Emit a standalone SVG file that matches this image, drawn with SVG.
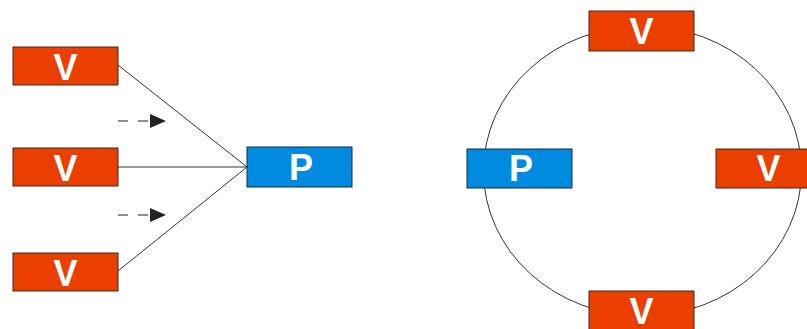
<svg xmlns="http://www.w3.org/2000/svg" width="807" height="329" viewBox="0 0 807 329">
  <defs>
    <style>
      .v { fill: #EB3F00; stroke: #3a2a20; stroke-width: 1; }
      .p { fill: #008BE0; stroke: #1a2a3a; stroke-width: 1; }
      .lbl { fill: #ffffff; font-family: "Liberation Sans", Arial, sans-serif; font-weight: bold; font-size: 36px; text-anchor: middle; }
      .wire { fill: none; stroke: #333333; stroke-width: 1; }
      .flow { fill: none; stroke: #222222; stroke-width: 1.2; stroke-dasharray: 10 10; }
    </style>
    <marker id="head" markerUnits="userSpaceOnUse" markerWidth="16" markerHeight="14" refX="0" refY="7" orient="auto">
      <path d="M0,0 L16,7 L0,14 Z" fill="#222222"/>
    </marker>
  </defs>

  <rect width="807" height="329" fill="#ffffff"/>

  <!-- connectors -->
  <g id="connectors">
    <line class="wire" x1="118" y1="65" x2="247" y2="167"/>
    <line class="wire" x1="118" y1="167" x2="247" y2="167"/>
    <line class="wire" x1="118" y1="271" x2="247" y2="167"/>
    <path class="flow" d="M118,121 H150" marker-end="url(#head)"/>
    <path class="flow" d="M118,215 H150" marker-end="url(#head)"/>
    <ellipse class="wire" cx="642.5" cy="171" rx="159" ry="145"/>
  </g>

  <!-- star layout -->
  <g id="v-top-left">
    <rect class="v" x="13" y="47" width="105" height="38"/>
    <text class="lbl" x="65.5" y="80">V</text>
  </g>
  <g id="v-mid-left">
    <rect class="v" x="13" y="148" width="105" height="38"/>
    <text class="lbl" x="65.5" y="181">V</text>
  </g>
  <g id="v-bottom-left">
    <rect class="v" x="13" y="253" width="105" height="38"/>
    <text class="lbl" x="65.5" y="286">V</text>
  </g>
  <g id="p-star">
    <rect class="p" x="247" y="147" width="105" height="40"/>
    <text class="lbl" x="301" y="180">P</text>
  </g>

  <!-- ring layout -->
  <g id="v-ring-top">
    <rect class="v" x="589" y="11" width="105" height="40"/>
    <text class="lbl" x="641.5" y="43.5">V</text>
  </g>
  <g id="p-ring">
    <rect class="p" x="467" y="149" width="105" height="39"/>
    <text class="lbl" x="521" y="181">P</text>
  </g>
  <g id="v-ring-right">
    <rect class="v" x="716" y="149" width="105" height="39"/>
    <text class="lbl" x="768.5" y="181">V</text>
  </g>
  <g id="v-ring-bottom">
    <rect class="v" x="589" y="291" width="105" height="40"/>
    <text class="lbl" x="641.5" y="323.5">V</text>
  </g>
</svg>
